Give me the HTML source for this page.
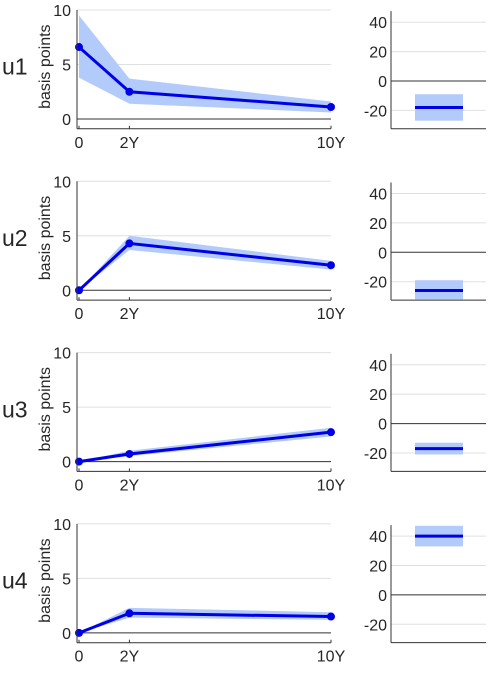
<!DOCTYPE html>
<html><head><meta charset="utf-8"><style>
body{margin:0;background:#fff;font-family:"Liberation Sans",sans-serif;}
svg text{font-family:"Liberation Sans",sans-serif;fill:#262626;}
</style></head><body>
<svg id="c" width="491" height="668"></svg>
<script>
const rowLabels=["u1","u2","u3","u4"];
const horizons=[0,2,10];
const tickLabels=["0","2Y","10Y"];
const mid=[[6.6,2.5,1.1],[0,4.3,2.3],[0,0.7,2.7],[0,1.8,1.5]];
const lo=[[3.8,1.4,0.6],[0,3.7,1.9],[0,0.5,2.3],[0,1.4,1.2]];
const hi=[[9.5,3.7,1.6],[0,5.0,2.7],[0,1.0,3.1],[0,2.3,1.9]];
const rMid=[-18,-26,-17,40];
const rLo=[-27,-32,-21,33];
const rHi=[-9,-19,-13,47];
const yTicks=[0,5,10];
const rTicks=[-20,0,20,40];
const NS="http://www.w3.org/2000/svg";
const svg=document.getElementById('c');
function el(t,a,p){const e=document.createElementNS(NS,t);for(const k in a)e.setAttribute(k,a[k]);(p||svg).appendChild(e);return e;}
rowLabels.forEach((lab,r)=>{
  const off=r*171.3;
  const g=el('g',{});
  
  
  const X=v=>79+v*25.2, Y=v=>119+off-v*10.9;
  yTicks.forEach(t=>{if(t!==0){const l=el('line',{x1:77,x2:331,y1:Y(t),y2:Y(t),stroke:'#e0e0e0'},g);}});
  const z=el('line',{x1:77,x2:331,y1:Y(0),y2:Y(0),stroke:'#333'},g);
  
  let pts=horizons.map((h,i)=>X(h)+','+Y(hi[r][i])).concat(horizons.slice().reverse().map((h,j)=>{const i=horizons.length-1-j;return X(h)+','+Y(lo[r][i]);}));
  const band=el('polygon',{points:pts.join(' '),fill:'#b3cbfa'},g);
  
  const line=el('polyline',{points:horizons.map((h,i)=>X(h)+','+Y(mid[r][i])).join(' '),fill:'none',stroke:'#0000e6','stroke-width':3},g);
  
  horizons.forEach((h,i)=>{const c=el('circle',{cx:X(h),cy:Y(mid[r][i]),r:4,fill:'#0000e6'},g);});
  el('line',{x1:77,x2:77,y1:Y(10),y2:Y(-0.9),stroke:'#333'},g);
  el('line',{x1:77,x2:331,y1:Y(-0.9),y2:Y(-0.9),stroke:'#333'},g);
  horizons.forEach((h,i)=>{el('line',{x1:X(h),x2:X(h),y1:Y(-0.9),y2:Y(-0.9)-3,stroke:'#333'},g);
    const t=el('text',{x:X(h),y:Y(-0.9)+19,'font-size':16,'text-anchor':'middle'},g);t.textContent=tickLabels[i];});
  yTicks.forEach(t=>{const tx=el('text',{x:71,y:Y(t)+6,'font-size':16,'text-anchor':'end'},g);tx.textContent=t;});
  const yl=el('text',{x:0,y:0,'font-size':16,'text-anchor':'middle',transform:`translate(50,${Y(4.8)}) rotate(-90)`},g);
  yl.textContent='basis points';
  const rl=el('text',{x:2,y:Y(4.8)+8,'font-size':23},g);rl.textContent=lab;
  const RY=v=>81+off-v*1.47;
  rTicks.forEach(t=>{const l=el('line',{x1:391,x2:486,y1:RY(t),y2:RY(t),stroke:t===0?'#333':'#e0e0e0'},g);
    const tx=el('text',{x:387,y:RY(t)+6,'font-size':16,'text-anchor':'end'},g);tx.textContent=t;});
  const rb=el('rect',{x:415,y:RY(rHi[r]),width:48,height:RY(rLo[r])-RY(rHi[r]),fill:'#b3cbfa'},g);
  
  const rm=el('line',{x1:415,x2:463,y1:RY(rMid[r]),y2:RY(rMid[r]),stroke:'#0000e6','stroke-width':3},g);
  
  el('line',{x1:391,x2:391,y1:RY(47.5),y2:RY(-32.5),stroke:'#333'},g);
  el('line',{x1:391,x2:486,y1:RY(-32.5),y2:RY(-32.5),stroke:'#333'},g);
});
</script>
</body></html>
